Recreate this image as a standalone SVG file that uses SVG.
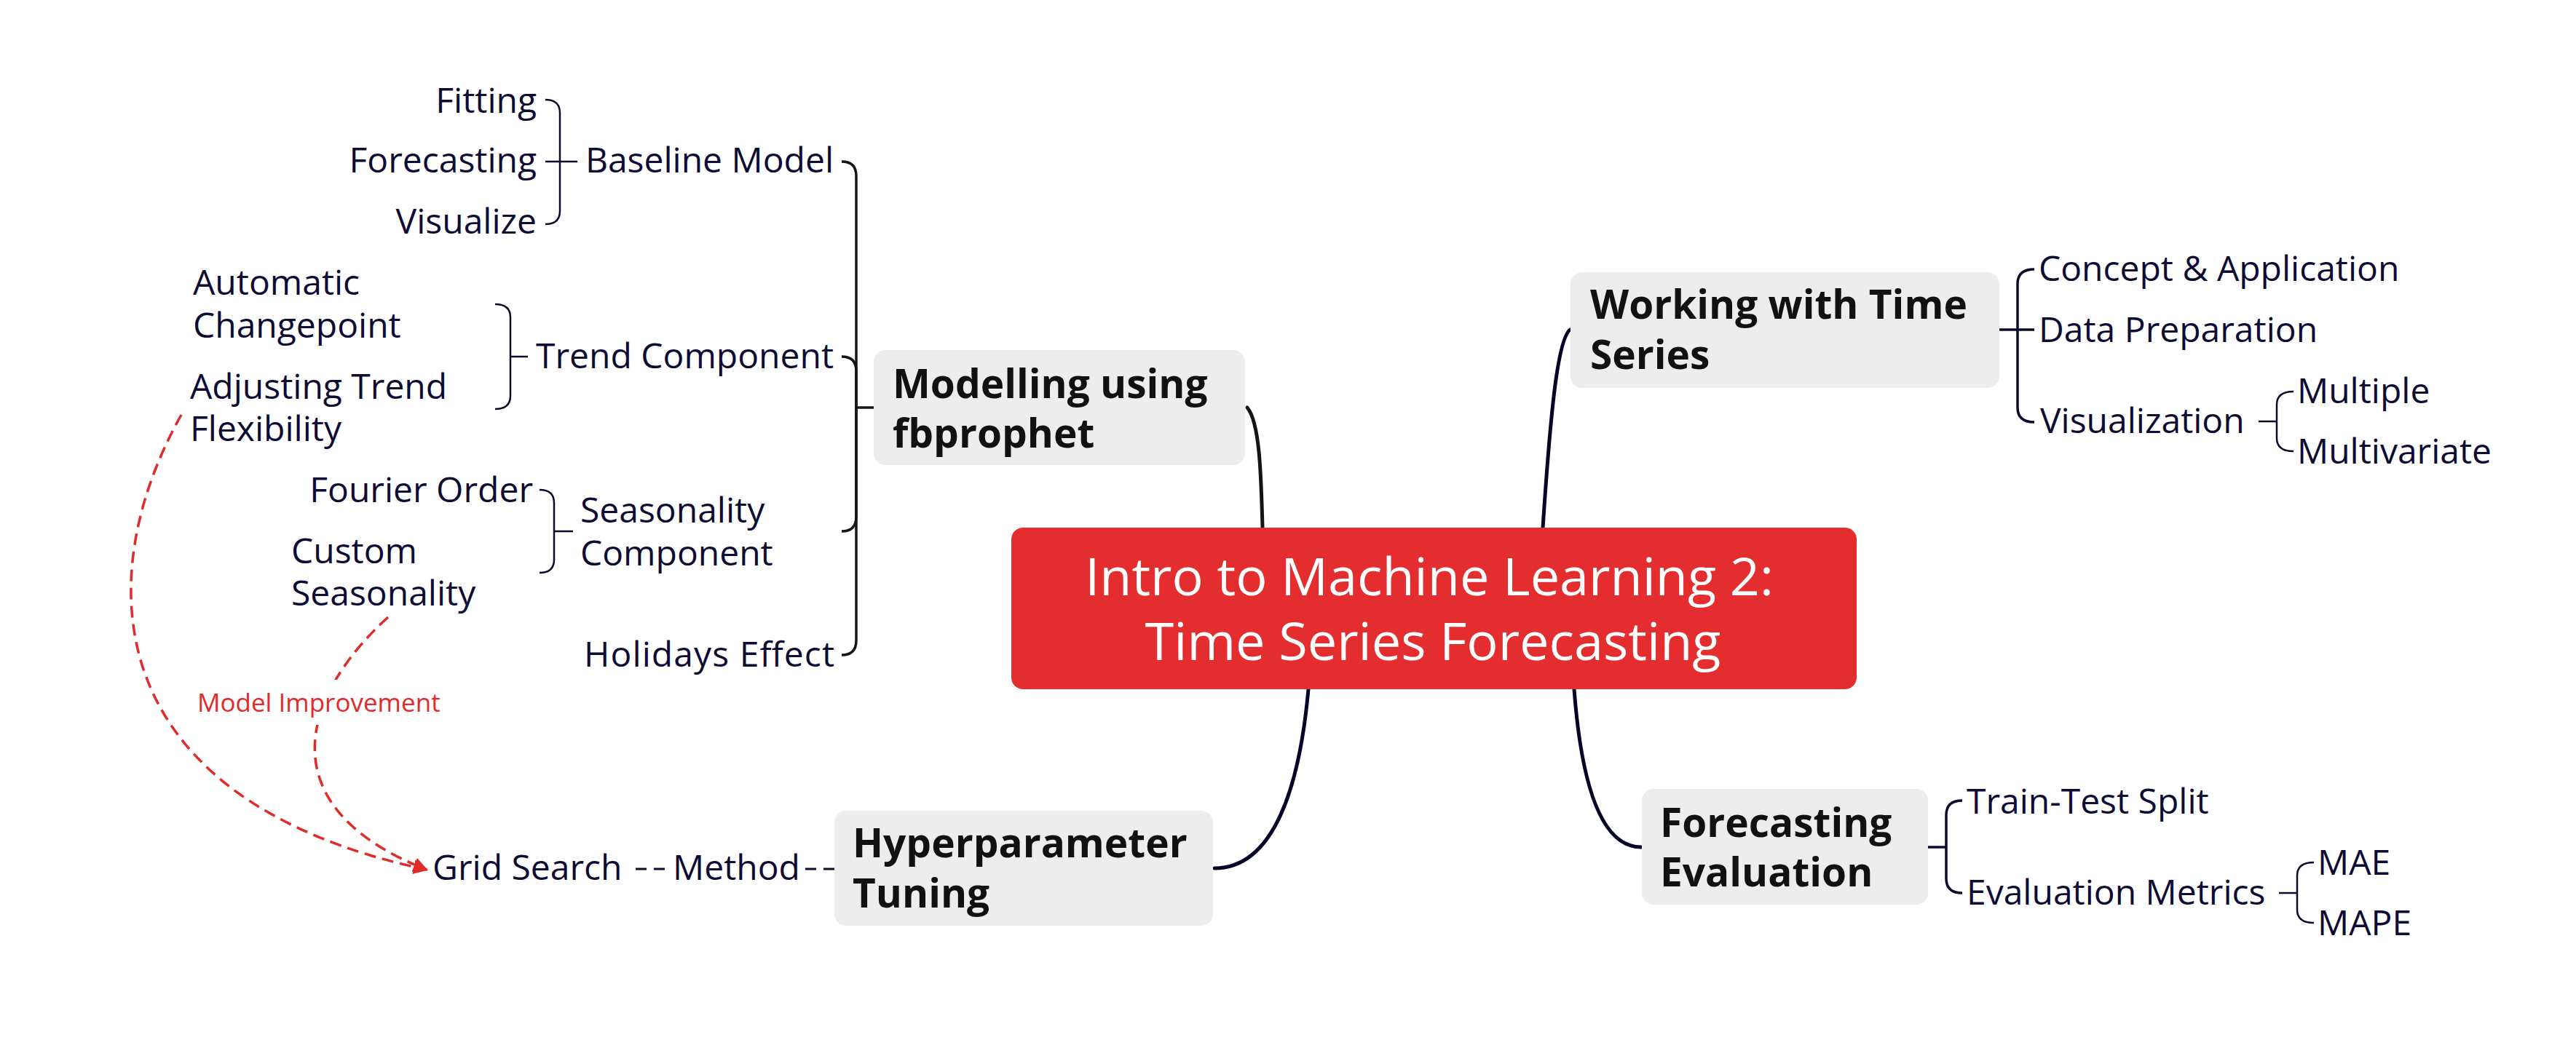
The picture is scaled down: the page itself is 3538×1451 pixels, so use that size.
<svg xmlns="http://www.w3.org/2000/svg" width="3538" height="1451" viewBox="0 0 3538 1451">
<style>
  text { font-family: "Open Sans", "Noto Sans", sans-serif; }
  .t { font-size: 48px; fill: #0E0C33; }
  .main { font-size: 55px; font-weight: bold; fill: #111111; }
  .center { font-size: 72px; fill: #FFFFFF; text-anchor: middle; }
  .box { fill: #EDEDED; }
  .red { font-size: 35px; fill: #E02B2B; }
  .thick { fill: none; stroke: #05052A; stroke-width: 5; stroke-linecap: round; }
  .thickb { fill: none; stroke: #141414; stroke-width: 5; stroke-linecap: round; }
  .br1 { fill: none; stroke: #0B0B2D; stroke-width: 3.5; }
  .br1b { fill: none; stroke: #141414; stroke-width: 3.5; }
  .br2 { fill: none; stroke: #0B0B2D; stroke-width: 2.5; }
  .dash { fill: none; stroke: #0B0B2D; stroke-width: 3; stroke-dasharray: 15 10; }
  .rdash { fill: none; stroke: #E02B2B; stroke-width: 3.5; stroke-dasharray: 16 9; marker-end: url(#arr); }
  .end { text-anchor: end; }
</style>
<defs>
  <marker id="arr" viewBox="0 0 10 10" refX="9" refY="5" markerUnits="userSpaceOnUse" markerWidth="20" markerHeight="20" orient="auto">
    <path d="M0,0 L10,5 L0,10 z" fill="#E02B2B"/>
  </marker>
</defs>
<rect width="3538" height="1451" fill="#FFFFFF"/>

<g id="connectors">
  <path class="thickb" d="M1734,725 C1732,650 1730,580 1713,560"/>
  <path class="thick" d="M2119,725 C2130,560 2140,460 2158,452"/>
  <path class="thick" d="M1797,947 C1785,1080 1750,1193 1668,1193"/>
  <path class="thick" d="M2162,947 C2172,1080 2200,1164 2254,1164"/>

  <path class="br1b" d="M1200,560 L1176,560"/>
  <path class="br1b" d="M1176,560 L1176,242 Q1176,222 1156,222"/>
  <path class="br1b" d="M1176,560 L1176,510 Q1176,490 1156,490"/>
  <path class="br1b" d="M1176,560 L1176,710 Q1176,730 1156,730"/>
  <path class="br1b" d="M1176,560 L1176,880 Q1176,900 1156,900"/>

  <path class="br2" d="M793,222 L749,222"/>
  <path class="br2" d="M769,222 L769,155 Q769,137 749,137"/>
  <path class="br2" d="M769,222 L769,290 Q769,308 749,308"/>

  <path class="br2" d="M725,490 L701,490"/>
  <path class="br2" d="M701,490 L701,436 Q701,418 680,418"/>
  <path class="br2" d="M701,490 L701,544 Q701,562 680,562"/>

  <path class="br2" d="M787,730 L761,730"/>
  <path class="br2" d="M761,730 L761,691 Q761,673 741,673"/>
  <path class="br2" d="M761,730 L761,769 Q761,787 741,787"/>

  <path class="br1" d="M2746,453 L2794,453"/>
  <path class="br1" d="M2771,453 L2771,390 Q2771,370 2794,370"/>
  <path class="br1" d="M2771,453 L2771,560 Q2771,580 2794,580"/>

  <path class="br2" d="M3102,579 L3127,579"/>
  <path class="br2" d="M3127,579 L3127,556 Q3127,538 3150,538"/>
  <path class="br2" d="M3127,579 L3127,602 Q3127,620 3150,620"/>

  <path class="br1" d="M2648,1164 L2673,1164"/>
  <path class="br1" d="M2673,1164 L2673,1120 Q2673,1100 2695,1100"/>
  <path class="br1" d="M2673,1164 L2673,1207 Q2673,1227 2695,1227"/>

  <path class="br2" d="M3130,1227 L3155,1227"/>
  <path class="br2" d="M3155,1227 L3155,1203 Q3155,1185 3178,1185"/>
  <path class="br2" d="M3155,1227 L3155,1250 Q3155,1268 3178,1268"/>

  <path class="dash" d="M1146,1194 L1106,1194"/>
  <path class="dash" d="M913,1194 L873,1194"/>

  <path class="rdash" d="M249,570 C120,800 140,1100 586,1195"/>
  <path class="rdash" d="M533,848 C410,960 370,1110 586,1195"/>
</g>

<g id="label-model-improvement">
  <rect x="262" y="934" width="352" height="62" fill="#FFFFFF"/>
  <text class="red" x="271" y="978">Model Improvement</text>
</g>

<g id="node-center">
  <rect x="1389" y="725" width="1161" height="222" rx="16" fill="#E32D2F"/>
  <text class="center" x="1963" y="818">Intro to Machine Learning 2:</text>
  <text class="center" x="1968" y="907">Time Series Forecasting</text>
</g>

<g id="node-modelling">
  <rect class="box" x="1200" y="481" width="510" height="158" rx="16"/>
  <text class="main" x="1226" y="547">Modelling using</text>
  <text class="main" x="1226" y="615">fbprophet</text>
</g>
<g id="node-working">
  <rect class="box" x="2157" y="374" width="589" height="159" rx="16"/>
  <text class="main" x="2184" y="438">Working with Time</text>
  <text class="main" x="2184" y="507">Series</text>
</g>
<g id="node-hyper">
  <rect class="box" x="1146" y="1114" width="520" height="158" rx="16"/>
  <text class="main" x="1171" y="1178">Hyperparameter</text>
  <text class="main" x="1171" y="1247">Tuning</text>
</g>
<g id="node-foreval">
  <rect class="box" x="2255" y="1084" width="393" height="159" rx="16"/>
  <text class="main" x="2280" y="1150">Forecasting</text>
  <text class="main" x="2280" y="1218">Evaluation</text>
</g>

<g id="node-baseline"><text class="t end" x="1145" y="237">Baseline Model</text></g>
<g id="node-fitting"><text class="t end" x="737" y="155">Fitting</text></g>
<g id="node-forecasting"><text class="t end" x="737" y="237">Forecasting</text></g>
<g id="node-visualize"><text class="t end" x="737" y="321">Visualize</text></g>
<g id="node-trend"><text class="t end" x="1145" y="506">Trend Component</text></g>
<g id="node-autochange">
  <text class="t" x="265" y="405">Automatic</text>
  <text class="t" x="265" y="464">Changepoint</text>
</g>
<g id="node-adjtrend">
  <text class="t" x="261" y="548">Adjusting Trend</text>
  <text class="t" x="261" y="606">Flexibility</text>
</g>
<g id="node-seasonality">
  <text class="t" x="797" y="718">Seasonality</text>
  <text class="t" x="797" y="777">Component</text>
</g>
<g id="node-fourier"><text class="t end" x="732" y="690">Fourier Order</text></g>
<g id="node-customseason">
  <text class="t" x="400" y="774">Custom</text>
  <text class="t" x="400" y="832">Seasonality</text>
</g>
<g id="node-holidays"><text class="t end" x="1146" y="916" textLength="344">Holidays Effect</text></g>
<g id="node-gridsearch"><text class="t" x="594" y="1209">Grid Search</text></g>
<g id="node-method"><text class="t" x="924" y="1209">Method</text></g>

<g id="node-concept"><text class="t" x="2800" y="386">Concept &amp; Application</text></g>
<g id="node-dataprep"><text class="t" x="2800" y="470">Data Preparation</text></g>
<g id="node-visualization"><text class="t" x="2802" y="595">Visualization</text></g>
<g id="node-multiple"><text class="t" x="3155" y="554">Multiple</text></g>
<g id="node-multivariate"><text class="t" x="3155" y="637">Multivariate</text></g>
<g id="node-traintest"><text class="t" x="2701" y="1118">Train-Test Split</text></g>
<g id="node-evalmetrics"><text class="t" x="2701" y="1243">Evaluation Metrics</text></g>
<g id="node-mae"><text class="t" x="3183" y="1202">MAE</text></g>
<g id="node-mape"><text class="t" x="3183" y="1285">MAPE</text></g>
</svg>
